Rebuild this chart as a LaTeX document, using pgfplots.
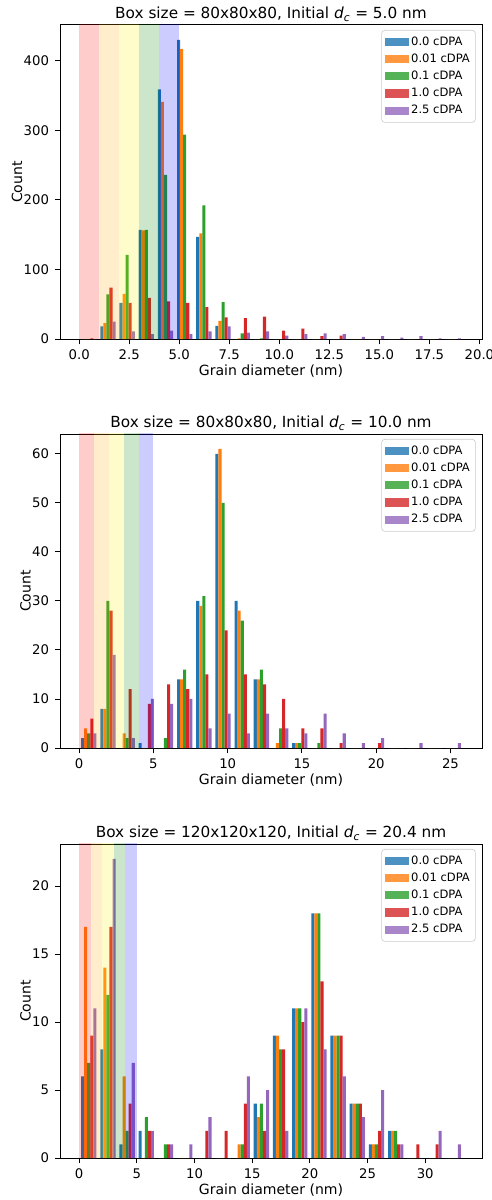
\documentclass[border=0pt]{standalone}
\usepackage{fontspec}
\setmainfont{DejaVu Sans}
\usepackage{pgfplots}
\usepackage{pgfplotstable}
\pgfplotsset{compat=1.18}

\definecolor{tabblue}{HTML}{1F77B4}
\definecolor{taborange}{HTML}{FF7F0E}
\definecolor{tabgreen}{HTML}{2CA02C}
\definecolor{tabred}{HTML}{D62728}
\definecolor{tabpurple}{HTML}{9467BD}
\definecolor{spanorange}{HTML}{FFA500}
\definecolor{spangreen}{HTML}{008000}

% bin centre, then counts for 0.0 / 0.01 / 0.1 / 1.0 / 2.5 cDPA
\pgfplotstableread{
x      B   O   G   R   P
0.479  0   0   0   1   0
1.438  18  23  64  74  25
2.396  52  65  121 52  11
3.355  157 156 157 59  7
4.313  359 341 236 54  12
5.272  430 417 294 52  7
6.230  147 152 192 46  11
7.189  19  26  53  31  18
8.147  0   1   8   30  9
9.106  0   0   1   32  11
10.064 0   0   0   12  5
11.023 0   0   0   15  7
11.981 0   0   0   4   8
12.940 0   0   0   5   7
13.898 0   0   0   0   3
14.857 0   0   0   0   4
15.815 0   0   0   0   2
16.774 0   0   0   0   4
17.732 0   0   0   0   1
18.691 0   0   0   0   1
}\dataA

\pgfplotstableread{
x      B   O   G   R   P
0.646  2   4   3   6   3
1.937  8   8   30  28  19
3.229  0   3   2   12  2
4.520  1   0   0   9   10
5.812  0   0   2   13  9
7.103  14  14  16  12  10
8.395  30  29  31  15  4
9.686  60  61  50  24  7
10.978 30  28  26  15  3
12.269 14  14  16  13  7
13.561 0   1   4   10  4
14.852 1   1   1   4   3
16.144 0   0   1   4   7
17.435 0   0   0   1   3
18.727 0   0   0   0   1
20.018 0   0   0   1   2
21.310 0   0   0   0   0
22.601 0   0   0   0   1
23.893 0   0   0   0   0
25.184 0   0   0   0   1
}\dataB

\pgfplotstableread{
x      B   O   G   R   P
0.832  6   17  7   9   11
2.495  8   14  12  17  22
4.158  1   6   2   4   7
5.821  2   0   3   2   2
7.484  0   0   1   1   1
9.147  0   0   0   0   1
10.810 0   0   0   2   3
12.473 0   0   0   2   0
14.136 0   1   1   4   6
15.799 4   3   4   2   5
17.462 9   9   8   8   2
19.125 11  11  11  10  11
20.788 18  18  18  13  8
22.451 9   9   9   9   6
24.114 4   4   4   4   3
25.777 1   1   1   2   5
27.440 2   2   2   1   1
29.103 0   0   0   1   0
30.766 0   0   0   1   2
32.429 0   0   0   0   1
}\dataC

\pgfplotsset{
  histax/.style={
    scale only axis, width=270.5pt, height=201.3pt,
    anchor=south west,
    ymin=0, ybar,
    tick align=outside, tick pos=left,
    major tick length=3.5pt,
    axis line style={line width=0.6pt},
    tick style={line width=0.6pt, black},
    font=\fontsize{9}{11}\selectfont,
    tick label style={font=\fontsize{8.5}{10}\selectfont},
    /pgf/number format/assume math mode=true,
    xlabel={Grain diameter (nm)}, ylabel={Count},
    xlabel shift=-4pt, ylabel shift=-6pt,
    title style={yshift=-7.3pt, font=\fontsize{9.8}{12}\selectfont},
    legend cell align=left,
    legend style={at={(0.985,0.984)}, anchor=north east,
      draw=black!20, rounded corners=2pt, fill=white, fill opacity=0.8,
      text opacity=1, draw opacity=1, inner sep=2pt,
      font=\fontsize{7.4}{9}\selectfont,
      nodes={inner xsep=1.5pt, inner ysep=2pt, text height=5.5pt, text depth=1.5pt},
      /tikz/every even column/.append style={column sep=4pt}},
    legend image code/.code={\fill[##1, sharp corners] (0pt,-2.6pt) rectangle (15.4pt,2.6pt);},
    every axis plot/.append style={draw=none},
  }
}

\newcommand{\spans}{%
  \fill[red, opacity=0.2] (axis cs:0,0) rectangle (axis cs:1,1000);
  \fill[spanorange, opacity=0.2] (axis cs:1,0) rectangle (axis cs:2,1000);
  \fill[yellow, opacity=0.2] (axis cs:2,0) rectangle (axis cs:3,1000);
  \fill[spangreen, opacity=0.2] (axis cs:3,0) rectangle (axis cs:4,1000);
  \fill[blue, opacity=0.2] (axis cs:4,0) rectangle (axis cs:5,1000);
}

\begin{document}
\begin{tikzpicture}
\path[use as bounding box] (-38.46pt,-551.9pt) rectangle (276.9pt,217.3pt);

\begin{axis}[histax, at={(0pt,0pt)},
  title={Box size = 80x80x80, Initial \textit{d}\textsubscript{\textit{c}} = 5.0 nm},
  xmin=-0.9585, xmax=20.1285, ymax=451.5,
  xtick={0,2.5,...,20}, ytick={0,100,...,400},
  xticklabel style={/pgf/number format/.cd, fixed, fixed zerofill, precision=1},
  bar width=0.15336]
\addplot[fill=tabblue, bar shift=-0.30672] table[x=x, y=B] {\dataA};
\addplot[fill=taborange, bar shift=-0.15336] table[x=x, y=O] {\dataA};
\addplot[fill=tabgreen, bar shift=0] table[x=x, y=G] {\dataA};
\addplot[fill=tabred, bar shift=0.15336] table[x=x, y=R] {\dataA};
\addplot[fill=tabpurple, bar shift=0.30672] table[x=x, y=P] {\dataA};
\spans
\legend{0.0 cDPA, 0.01 cDPA, 0.1 cDPA, 1.0 cDPA, 2.5 cDPA}
\end{axis}

\begin{axis}[histax, at={(0pt,-262.17pt)},
  title={Box size = 80x80x80, Initial \textit{d}\textsubscript{\textit{c}} = 10.0 nm},
  xmin=-1.2915, xmax=27.1215, ymax=64.05,
  xtick={0,5,...,25}, ytick={0,10,...,60},
  bar width=0.20664]
\addplot[fill=tabblue, bar shift=-0.41328] table[x=x, y=B] {\dataB};
\addplot[fill=taborange, bar shift=-0.20664] table[x=x, y=O] {\dataB};
\addplot[fill=tabgreen, bar shift=0] table[x=x, y=G] {\dataB};
\addplot[fill=tabred, bar shift=0.20664] table[x=x, y=R] {\dataB};
\addplot[fill=tabpurple, bar shift=0.41328] table[x=x, y=P] {\dataB};
\spans
\legend{0.0 cDPA, 0.01 cDPA, 0.1 cDPA, 1.0 cDPA, 2.5 cDPA}
\end{axis}

\begin{axis}[histax, at={(0pt,-524.98pt)},
  title={Box size = 120x120x120, Initial \textit{d}\textsubscript{\textit{c}} = 20.4 nm},
  xmin=-1.663, xmax=34.923, ymax=23.1,
  xtick={0,5,...,30}, ytick={0,5,...,20},
  bar width=0.26608]
\addplot[fill=tabblue, bar shift=-0.53216] table[x=x, y=B] {\dataC};
\addplot[fill=taborange, bar shift=-0.26608] table[x=x, y=O] {\dataC};
\addplot[fill=tabgreen, bar shift=0] table[x=x, y=G] {\dataC};
\addplot[fill=tabred, bar shift=0.26608] table[x=x, y=R] {\dataC};
\addplot[fill=tabpurple, bar shift=0.53216] table[x=x, y=P] {\dataC};
\spans
\legend{0.0 cDPA, 0.01 cDPA, 0.1 cDPA, 1.0 cDPA, 2.5 cDPA}
\end{axis}
\end{tikzpicture}
\end{document}
